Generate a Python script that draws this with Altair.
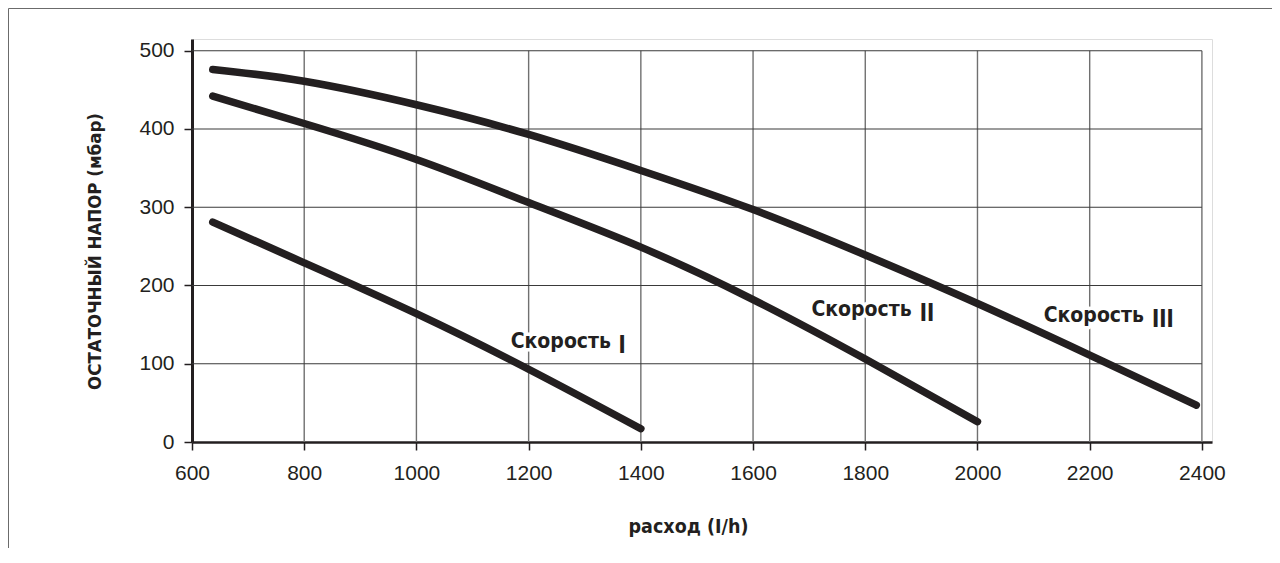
import altair as alt
import pandas as pd

# ---- data ----
flow_I = [637, 800, 1000, 1200, 1400]
head_I = [281, 229, 164, 93, 17]

flow_II = [637, 800, 1000, 1200, 1400, 1600, 1800, 2000]
head_II = [442, 407, 361, 306, 249, 182, 106, 26]

flow_III = [637, 800, 1000, 1200, 1400, 1600, 1800, 2000, 2200, 2390]
head_III = [476, 461, 431, 393, 347, 297, 239, 177, 111, 47]

x_ticks = [600, 800, 1000, 1200, 1400, 1600, 1800, 2000, 2200, 2400]
y_ticks = [0, 100, 200, 300, 400, 500]

label_word = ["Скорость", "Скорость", "Скорость"]
label_x = [1168, 1704, 2118]
label_y = [119.5, 160.4, 152.8]
numeral_text = ["I", "II", "III"]
numeral_x = [1360, 1897, 2311]
numeral_y = [114.3, 154.5, 146.8]

x_title = "расход (I/h)"
y_title = "ОСТАТОЧНЫЙ НАПОР (мбар)"

# ---- tables ----
curves = pd.concat([
    pd.DataFrame({"flow": flow_I, "head": head_I, "speed": "I"}),
    pd.DataFrame({"flow": flow_II, "head": head_II, "speed": "II"}),
    pd.DataFrame({"flow": flow_III, "head": head_III, "speed": "III"}),
])
vgrid = pd.DataFrame({"gx": x_ticks[1:], "y0": 0, "y1": max(y_ticks)})
hgrid = pd.DataFrame({"gy": y_ticks[1:], "x0": min(x_ticks), "x1": max(x_ticks)})
words = pd.DataFrame({"x": label_x, "y": label_y, "t": label_word})
nums = pd.DataFrame({"x": numeral_x, "y": numeral_y, "t": numeral_text})

INK = "#231f20"
NARROW = "DejaVu Sans Condensed, sans-serif"
REG = "Liberation Sans, Helvetica, Arial, sans-serif"

xscale = alt.Scale(domain=[600, 2418], nice=False, zero=False)
yscale = alt.Scale(domain=[0, 515], nice=False, zero=False)

xaxis = alt.Axis(
    values=x_ticks, grid=False, title=x_title, format="d",
    domainColor=INK, domainWidth=2.5, tickColor=INK, tickWidth=1.5, tickSize=8,
    labelFont=REG, labelFontSize=21, labelColor=INK, labelPadding=12,
    labelFlush=False, labelOverlap=False,
    titleFont=NARROW, titleFontSize=19.5, titleFontWeight="bold", titleColor=INK,
    titleX=496, titleY=90, titleAlign="center", titleBaseline="alphabetic",
)
yaxis = alt.Axis(
    values=y_ticks, grid=False, title=y_title, format="d",
    domainColor=INK, domainWidth=3, tickColor=INK, tickWidth=1.5, tickSize=8,
    labelFont=REG, labelFontSize=21, labelColor=INK, labelPadding=10,
    labelFlush=False, labelOverlap=False,
    titleFont=NARROW, titleFontSize=18.5, titleFontWeight="bold", titleColor=INK,
    titleX=-88, titleY=212, titleAlign="center", titleBaseline="bottom", titleAngle=270,
)

frame = alt.Chart(pd.DataFrame({"k": [0]})).mark_rect(
    fill=None, stroke="#6b6b6b", strokeWidth=1
).encode(
    x=alt.value(-183.5), x2=alt.value(2000), y=alt.value(-30.5), y2=alt.value(1000)
)

vg = alt.Chart(vgrid).mark_rule(color="#707070", strokeWidth=1.4).encode(
    x=alt.X("gx:Q", scale=xscale, axis=xaxis),
    y=alt.Y("y0:Q", scale=yscale, axis=yaxis),
    y2="y1:Q",
)
hg = alt.Chart(hgrid).mark_rule(color="#3a3a3a", strokeWidth=1.2).encode(
    y=alt.Y("gy:Q", scale=yscale),
    x=alt.X("x0:Q", scale=xscale),
    x2="x1:Q",
)

lines = alt.Chart(curves).mark_line(
    color=INK, strokeWidth=7.5, strokeCap="round", strokeJoin="round", interpolate="natural"
).encode(
    x=alt.X("flow:Q", scale=xscale),
    y=alt.Y("head:Q", scale=yscale),
    detail="speed:N",
)

def txt(df, font, size, halo):
    kw = dict(font=font, fontSize=size, fontWeight="bold", align="left", baseline="alphabetic")
    if halo:
        kw.update(fill="white", stroke="white", strokeWidth=7, strokeJoin="round")
    else:
        kw.update(fill=INK)
    return alt.Chart(df).mark_text(**kw).encode(
        x=alt.X("x:Q", scale=xscale), y=alt.Y("y:Q", scale=yscale), text="t:N"
    )

chart = alt.layer(
    frame, vg, hg, lines,
    txt(words, NARROW, 21, True), txt(nums, REG, 26, True),
    txt(words, NARROW, 21, False), txt(nums, REG, 26, False),
).properties(
    width=1020, height=403,
    autosize=alt.AutoSizeParams(type="none"),
    padding={"left": 184, "top": 31, "right": 60, "bottom": 106},
).configure_view(stroke=None).configure(background="white")

chart.save("out.html", embed_options={"renderer": "svg", "actions": False})
